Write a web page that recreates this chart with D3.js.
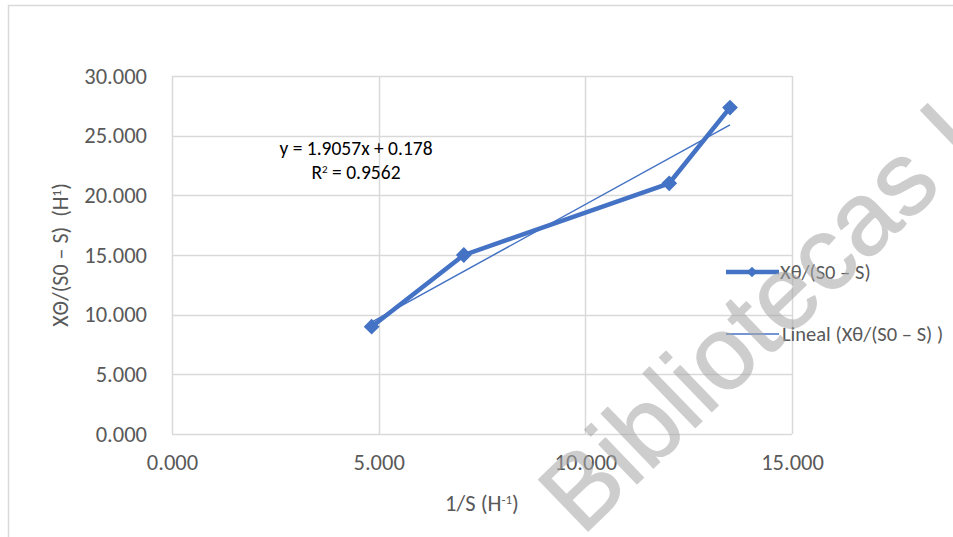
<!DOCTYPE html>
<html>
<head>
<meta charset="utf-8">
<script src="https://cdn.jsdelivr.net/npm/d3@7"></script>
<style>
  html, body { margin: 0; padding: 0; background: #fff; }
  svg { display: block; }
</style>
</head>
<body>
<svg id="chart" width="953" height="537"></svg>
<script>
// ---- data ----
const xValues = [4.83, 7.06, 12.03, 13.5];
const yValues = [8.99, 15.0, 21.01, 27.35];
const xTicks = [0, 5, 10, 15];
const yTicks = [0, 5, 10, 15, 20, 25, 30];
const trendSlope = 1.9057;
const trendIntercept = 0.178;
const rSquared = 0.9562;
const seriesName = "Xθ/(S0 – S)";
const trendName = "Lineal (Xθ/(S0 – S) )";
const watermarkText = "Bibliotecas U";

const W = 953, H = 537;
const blue = "#4472C4";
const grid = "#d9d9d9";
const textGrey = "#595959";
const font = "Carlito, Calibri, Lato, 'Open Sans', sans-serif";

const svg = d3.select("#chart");

// outer chart border (partial, as in the reference crop)
svg.append("path")
  .attr("d", `M8.5,${H} L8.5,5.5 L${W},5.5`)
  .attr("fill", "none").attr("stroke", grid).attr("stroke-width", 1.5);

const x = d3.scaleLinear().domain([0, 15]).range([172, 792]);
const y = d3.scaleLinear().domain([0, 30]).range([434, 76]);

// gridlines
const g = svg.append("g");
g.selectAll("line.hg").data(yTicks).join("line")
  .attr("x1", x(0)).attr("x2", x(15))
  .attr("y1", d => Math.round(y(d)) + 0.5).attr("y2", d => Math.round(y(d)) + 0.5)
  .attr("stroke", grid).attr("stroke-width", 1.5);
g.selectAll("line.vg").data(xTicks).join("line")
  .attr("y1", y(0)).attr("y2", y(30))
  .attr("x1", d => Math.round(x(d)) + 0.5).attr("x2", d => Math.round(x(d)) + 0.5)
  .attr("stroke", grid).attr("stroke-width", 1.5);

// axes (labels only, via d3 axes)
const fmt = d3.format(".3f");
const yAxis = svg.append("g").attr("transform", `translate(${x(0)},0)`)
  .call(d3.axisLeft(y).tickValues(yTicks).tickFormat(fmt).tickSize(0).tickPadding(25));
const xAxis = svg.append("g").attr("transform", `translate(0,${y(0)})`)
  .call(d3.axisBottom(x).tickValues(xTicks).tickFormat(fmt).tickSize(0).tickPadding(20));
[yAxis, xAxis].forEach(a => {
  a.select(".domain").remove();
  a.selectAll("text").attr("fill", textGrey).style("font-family", font).style("font-size", "22.5px");
});

// axis titles
const yTitle = svg.append("text")
  .attr("transform", `translate(68,255) rotate(-90)`)
  .attr("text-anchor", "middle").attr("fill", textGrey)
  .style("white-space", "pre")
  .style("font-family", font).style("font-size", "22px");
yTitle.append("tspan").text("XΘ/(S0 – S)  (H");
yTitle.append("tspan").attr("baseline-shift", "super").style("font-size", "13px").text("1");
yTitle.append("tspan").text(")");

const xTitle = svg.append("text")
  .attr("x", 482).attr("y", 511)
  .attr("text-anchor", "middle").attr("fill", textGrey)
  .style("font-family", font).style("font-size", "22.5px");
xTitle.append("tspan").text("1/S (H");
xTitle.append("tspan").attr("baseline-shift", "super").style("font-size", "13px").text("-1");
xTitle.append("tspan").text(")");

// series
const pts = xValues.map((v, i) => [v, yValues[i]]);
const line = d3.line().x(d => x(d[0])).y(d => y(d[1]));
svg.append("path").datum(pts)
  .attr("d", line).attr("fill", "none")
  .attr("stroke", blue).attr("stroke-width", 4.5).attr("stroke-linejoin", "round");

svg.selectAll("path.mk").data(pts).join("path")
  .attr("class", "mk")
  .attr("d", d3.symbol().type(d3.symbolSquare).size(125))
  .attr("transform", d => `translate(${x(d[0])},${y(d[1])}) rotate(45)`)
  .attr("fill", blue);

// trendline
const xMin = d3.min(xValues), xMax = d3.max(xValues);
svg.append("line")
  .attr("x1", x(xMin)).attr("y1", y(trendSlope * xMin + trendIntercept))
  .attr("x2", x(xMax)).attr("y2", y(trendSlope * xMax + trendIntercept))
  .attr("stroke", blue).attr("stroke-width", 1.5);

// equation label
svg.append("text").attr("text-anchor", "middle").attr("fill", "#000")
  .attr("x", 356).attr("y", 155)
  .style("font-family", font).style("font-size", "19.5px")
  .text(`y = ${trendSlope}x + ${trendIntercept}`);
const r2 = svg.append("text").attr("text-anchor", "middle").attr("fill", "#000")
  .attr("x", 356).attr("y", 179)
  .style("font-family", font).style("font-size", "19.5px");
r2.append("tspan").text("R");
r2.append("tspan").attr("baseline-shift", "super").style("font-size", "11px").text("2");
r2.append("tspan").text(` = ${rSquared}`);

// legend
const lg = svg.append("g");
lg.append("line").attr("x1", 726).attr("x2", 779).attr("y1", 272).attr("y2", 272)
  .attr("stroke", blue).attr("stroke-width", 4.5);
lg.append("path").attr("d", d3.symbol().type(d3.symbolSquare).size(55))
  .attr("transform", "translate(752,272) rotate(45)").attr("fill", blue);
lg.append("text").attr("x", 780).attr("y", 279).attr("fill", textGrey)
  .style("font-family", font).style("font-size", "20.5px").text(seriesName);
lg.append("line").attr("x1", 726).attr("x2", 779).attr("y1", 334).attr("y2", 334)
  .attr("stroke", blue).attr("stroke-width", 1.5);
lg.append("text").attr("x", 782).attr("y", 341).attr("fill", textGrey)
  .style("font-family", font).style("font-size", "20.5px").text(trendName);

// watermark
svg.append("g").attr("opacity", 0.55)
  .append("text")
  .attr("transform", "translate(582,537) rotate(-44)")
  .attr("fill", "#a6a6a6").attr("stroke", "#a6a6a6").attr("stroke-width", 1.2)
  .attr("stroke-linejoin", "round")
  .style("font-family", "'Liberation Sans', Arial, sans-serif").style("font-size", "104px")
  .text(watermarkText);
</script>
</body>
</html>
